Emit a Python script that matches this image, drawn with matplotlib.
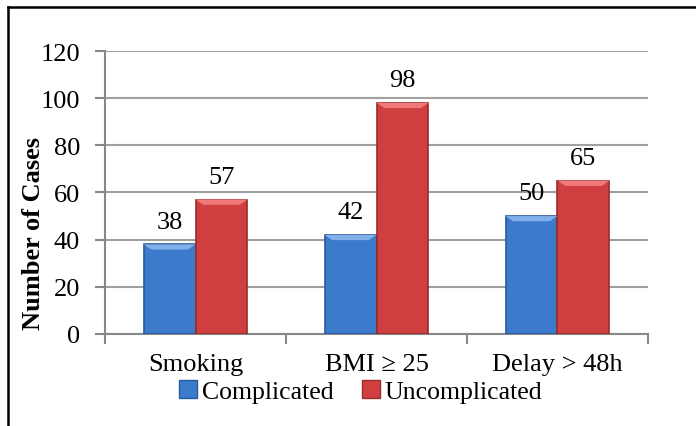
import numpy as np
import matplotlib
matplotlib.use('Agg')
import matplotlib.pyplot as plt
from matplotlib.patches import Patch
from matplotlib.lines import Line2D

categories = ['Smoking', 'BMI \u2265 25', 'Delay > 48h']
complicated = [38, 42, 50]
uncomplicated = [57, 98, 65]
series_names = ['Complicated', 'Uncomplicated']
y_ticks = [0, 20, 40, 60, 80, 100, 120]

plt.rcParams['font.family'] = ['Liberation Serif', 'DejaVu Serif']
fs = 19

fig = plt.figure(figsize=(6.96, 4.27), dpi=100)
ax = fig.add_axes([0.1509, 0.2155, 0.7801, 0.6627])

blue = '#3c7acb'
blue_edge = '#2a5a9a'
red = '#cf3f3f'
red_edge = '#9a2b2b'

x = np.arange(len(categories))
w = 0.287
b1 = ax.bar(x - w / 2, complicated, w, color=blue, edgecolor=blue_edge, linewidth=1.2, zorder=3)
b2 = ax.bar(x + w / 2, uncomplicated, w, color=red, edgecolor=red_edge, linewidth=1.2, zorder=3)

# light bevel on top of each bar
for bars, light in ((b1, '#7fb0ea'), (b2, '#f07a7a')):
    for r in bars:
        x0, wd, h = r.get_x(), r.get_width(), r.get_height()
        ax.fill([x0, x0 + wd, x0 + wd * 0.85, x0 + wd * 0.15],
                [h, h, h - 2.2, h - 2.2], color=light, zorder=4, lw=0)

for bars in (b1, b2):
    for r in bars:
        ax.text(r.get_x() + r.get_width() / 2, r.get_height() + 5, str(int(r.get_height())),
                ha='center', va='bottom', fontsize=fs)

ax.set_xlim(-0.5, len(categories) - 0.5)
ax.set_ylim(0, 120)
ax.set_yticks(y_ticks)
ax.yaxis.grid(True, color='#a0a0a0', linewidth=1.5, zorder=0)
ax.set_axisbelow(True)

ax.set_xticks(np.arange(len(categories) + 1) - 0.5)
ax.set_xticklabels([])
ax.set_xticks(x, minor=True)
ax.set_xticklabels(categories, minor=True, fontsize=fs)
ax.tick_params(axis='x', which='minor', length=0, pad=14)
ax.tick_params(axis='x', which='major', length=7, width=1.5, color='#888888')
ax.tick_params(axis='y', length=7, width=1.5, color='#888888', labelsize=fs, pad=11)

for s in ['top', 'right']:
    ax.spines[s].set_visible(False)
for s in ['left', 'bottom']:
    ax.spines[s].set_color('#888888')
    ax.spines[s].set_linewidth(1.5)

ax.set_ylabel('Number of Cases', fontsize=fs, fontweight='bold')
ax.yaxis.set_label_coords(-0.111, 0.359)

handles = [Patch(facecolor=blue, edgecolor=blue_edge), Patch(facecolor=red, edgecolor=red_edge)]
fig.legend(handles, series_names, loc='center', bbox_to_anchor=(0.518, 0.08), ncol=2,
           frameon=False, fontsize=18.5, handlelength=0.7, handleheight=0.7,
           handletextpad=0.2, columnspacing=1.1, borderpad=0)

# outer chart border (left and top edges visible)
fig.add_artist(Line2D([8 / 696, 8 / 696], [0, 1 - 8 / 427], color='black', lw=1.8, transform=fig.transFigure))
fig.add_artist(Line2D([8 / 696, 1], [1 - 8 / 427, 1 - 8 / 427], color='black', lw=1.8, transform=fig.transFigure))

fig.savefig('out.png', dpi=100)
